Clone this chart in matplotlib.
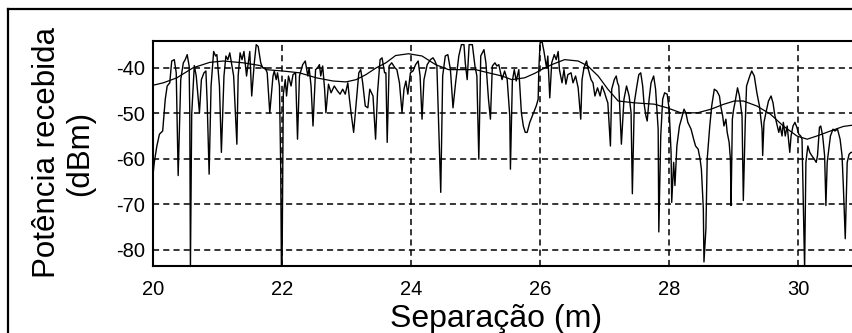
import matplotlib
matplotlib.use("Agg")
import matplotlib.pyplot as plt
from matplotlib.lines import Line2D

# --------------------------
# Data
# --------------------------
# received power (fast fading) - separation in m, power in dBm
sep_m = [
    19.98, 20.02, 20.06, 20.10, 20.15, 20.19, 20.22, 20.26, 20.29, 20.33,
    20.36, 20.39, 20.43, 20.47, 20.50, 20.53, 20.56, 20.57, 20.58, 20.60,
    20.64, 20.67, 20.72, 20.75, 20.79, 20.82, 20.84, 20.87, 20.90, 20.94,
    20.97, 20.99, 21.03, 21.06, 21.10, 21.13, 21.16, 21.19, 21.25, 21.30,
    21.32, 21.35, 21.38, 21.41, 21.45, 21.50, 21.53, 21.57, 21.60, 21.63,
    21.67, 21.70, 21.74, 21.77, 21.81, 21.86, 21.88, 21.91, 21.93, 21.96,
    21.98, 21.99, 22.00, 22.02, 22.05, 22.07, 22.10, 22.14, 22.17, 22.21,
    22.24, 22.27, 22.32, 22.36, 22.40, 22.42, 22.45, 22.48, 22.52, 22.55,
    22.58, 22.60, 22.63, 22.66, 22.68, 22.72, 22.76, 22.81, 22.86, 22.90,
    22.94, 22.98, 23.02, 23.04, 23.07, 23.11, 23.15, 23.19, 23.22, 23.25,
    23.29, 23.33, 23.36, 23.41, 23.45, 23.48, 23.52, 23.55, 23.59, 23.61,
    23.63, 23.66, 23.70, 23.75, 23.78, 23.82, 23.86, 23.89, 23.92, 23.95,
    23.99, 24.03, 24.07, 24.11, 24.14, 24.17, 24.20, 24.25, 24.30, 24.34,
    24.37, 24.40, 24.44, 24.46, 24.49, 24.53, 24.57, 24.61, 24.65, 24.69,
    24.74, 24.78, 24.82, 24.84, 24.87, 24.90, 24.95, 24.99, 25.02, 25.05,
    25.08, 25.13, 25.16, 25.20, 25.23, 25.26, 25.30, 25.33, 25.36, 25.41,
    25.45, 25.49, 25.53, 25.54, 25.57, 25.60, 25.63, 25.67, 25.71, 25.74,
    25.77, 25.80, 25.84, 25.89, 25.94, 25.97, 25.98, 26.00, 26.03, 26.06,
    26.10, 26.12, 26.15, 26.18, 26.22, 26.25, 26.28, 26.30, 26.34, 26.37,
    26.40, 26.43, 26.48, 26.51, 26.55, 26.59, 26.63, 26.65, 26.68, 26.72,
    26.74, 26.79, 26.82, 26.85, 26.89, 26.93, 26.96, 27.00, 27.03, 27.05,
    27.09, 27.11, 27.15, 27.18, 27.20, 27.22, 27.26, 27.30, 27.34, 27.38,
    27.41, 27.43, 27.46, 27.50, 27.53, 27.56, 27.59, 27.61, 27.64, 27.66,
    27.69, 27.72, 27.76, 27.79, 27.83, 27.84, 27.87, 27.90, 27.93, 27.97,
    28.00, 28.03, 28.04, 28.07, 28.09, 28.12, 28.16, 28.19, 28.23, 28.26,
    28.29, 28.34, 28.38, 28.41, 28.45, 28.48, 28.50, 28.53, 28.54, 28.57,
    28.59, 28.63, 28.66, 28.70, 28.74, 28.78, 28.80, 28.83, 28.85, 28.88,
    28.90, 28.93, 28.95, 28.96, 28.98, 29.00, 29.02, 29.06, 29.09, 29.13,
    29.15, 29.18, 29.20, 29.25, 29.28, 29.32, 29.36, 29.40, 29.44, 29.45,
    29.47, 29.50, 29.54, 29.58, 29.61, 29.64, 29.67, 29.70, 29.72, 29.75,
    29.77, 29.80, 29.83, 29.87, 29.89, 29.92, 29.95, 29.98, 30.01, 30.04,
    30.06, 30.08, 30.10, 30.12, 30.15, 30.18, 30.21, 30.25, 30.28, 30.30,
    30.33, 30.35, 30.38, 30.41, 30.43, 30.45, 30.50, 30.54, 30.57, 30.61,
    30.65, 30.68, 30.70, 30.73, 30.76, 30.79, 30.82, 30.85,
]
power_dbm = [
    -66.3, -60.8, -57.2, -54.6, -53.9, -46.9, -44.0, -43.3, -38.5, -38.2,
    -41.1, -63.7, -42.6, -38.9, -38.2, -37.1, -39.6, -49.9, -84.2, -50.2,
    -39.5, -41.8, -49.9, -42.6, -41.1, -40.7, -47.7, -63.4, -44.0, -36.4,
    -37.4, -37.1, -44.0, -58.6, -41.8, -37.4, -38.2, -36.7, -41.8, -56.8,
    -41.8, -36.7, -38.2, -36.4, -41.8, -36.4, -46.2, -38.9, -34.9, -35.3,
    -38.9, -40.0, -40.0, -41.1, -49.9, -41.8, -40.7, -42.6, -41.1, -44.0,
    -62.3, -84.2, -84.2, -45.8, -42.6, -46.2, -41.8, -44.0, -41.5, -41.1,
    -55.7, -41.8, -39.3, -38.5, -41.8, -40.0, -44.0, -52.8, -40.4, -40.0,
    -39.3, -41.8, -39.6, -44.7, -49.9, -43.6, -45.5, -44.0, -45.1, -45.8,
    -44.7, -45.8, -43.3, -46.2, -49.9, -54.2, -47.7, -41.1, -40.4, -43.3,
    -48.4, -48.8, -44.7, -46.2, -55.7, -45.5, -38.2, -37.8, -41.1, -41.1,
    -56.4, -39.6, -38.9, -40.0, -40.4, -43.3, -49.9, -44.7, -42.9, -45.8,
    -41.1, -40.7, -39.3, -38.5, -41.8, -51.3, -42.6, -39.3, -38.2, -37.8,
    -38.5, -39.6, -57.9, -67.4, -41.8, -37.4, -37.1, -40.4, -48.8, -43.3,
    -37.4, -34.9, -34.9, -38.9, -42.6, -34.9, -34.9, -39.6, -41.8, -60.1,
    -37.4, -36.0, -38.9, -46.9, -51.3, -39.6, -38.9, -39.6, -39.3, -42.6,
    -40.7, -42.6, -50.6, -62.3, -42.9, -40.4, -42.9, -40.4, -49.9, -52.8,
    -54.2, -54.2, -52.0, -50.2, -48.4, -46.9, -40.4, -34.5, -34.2, -36.4,
    -40.0, -37.4, -46.6, -38.9, -37.1, -38.2, -36.4, -40.4, -43.3, -40.4,
    -43.6, -41.5, -41.1, -43.3, -41.8, -44.4, -51.3, -42.6, -40.0, -38.5,
    -40.0, -42.6, -43.3, -46.2, -44.4, -46.2, -44.0, -45.5, -46.9, -47.7,
    -57.2, -44.7, -42.6, -41.8, -43.3, -44.0, -56.8, -46.9, -44.0, -46.2,
    -49.9, -67.7, -47.7, -44.0, -41.5, -41.1, -44.0, -47.7, -50.6, -51.7,
    -46.9, -43.3, -41.8, -44.7, -53.5, -76.1, -55.0, -46.9, -45.5, -45.8,
    -49.1, -58.6, -69.6, -60.8, -65.9, -57.2, -52.8, -51.3, -49.1, -49.9,
    -52.0, -53.5, -55.7, -57.2, -57.9, -60.1, -62.3, -71.0, -82.7, -75.4,
    -60.1, -52.8, -48.4, -44.7, -45.1, -46.2, -48.4, -50.6, -52.8, -51.3,
    -54.2, -56.4, -60.1, -70.3, -51.3, -49.1, -47.7, -44.4, -46.2, -50.6,
    -69.2, -52.0, -44.0, -41.8, -40.7, -41.8, -45.5, -48.4, -53.5, -59.3,
    -52.0, -49.9, -47.3, -46.2, -47.7, -50.6, -52.4, -54.2, -52.8, -55.0,
    -52.0, -55.0, -52.8, -58.6, -55.0, -52.8, -52.0, -53.1, -54.6, -55.0,
    -55.7, -69.6, -84.2, -60.8, -57.2, -58.6, -59.3, -60.1, -60.8, -59.3,
    -53.1, -52.8, -55.0, -59.3, -70.3, -60.8, -55.0, -53.5, -53.9, -53.5,
    -55.7, -59.3, -65.9, -77.6, -60.8, -59.0, -58.6, -58.6,
]

# local mean (slow fading)
mean_sep_m = [
    19.95, 20.16, 20.37, 20.62, 20.88, 21.09, 21.40, 21.66, 21.75, 22.01,
    22.27, 22.53, 22.79, 22.99, 23.15, 23.30, 23.46, 23.61, 23.76, 23.96,
    24.17, 24.38, 24.58, 24.79, 25.00, 25.20, 25.41, 25.56, 25.76, 25.92,
    26.02, 26.18, 26.38, 26.59, 26.74, 26.90, 27.05, 27.21, 27.46, 27.77,
    27.97, 28.18, 28.44, 28.65, 28.85, 29.01, 29.15, 29.36, 29.57, 29.77,
    29.98, 30.14, 30.29, 30.50, 30.70, 30.85,
]
mean_dbm = [
    -44.0, -43.3, -42.2, -40.0, -38.8, -38.5, -38.9, -39.5, -40.4, -40.7,
    -41.1, -42.2, -42.9, -43.1, -42.6, -41.5, -40.0, -38.9, -37.3, -36.9,
    -37.4, -39.3, -40.4, -40.4, -40.4, -41.1, -41.8, -42.6, -42.2, -41.2,
    -40.4, -39.3, -38.2, -38.5, -39.6, -41.8, -44.7, -47.3, -47.7, -48.0,
    -48.8, -49.9, -49.9, -49.1, -48.0, -47.3, -47.3, -48.4, -50.2, -52.8,
    -55.0, -55.7, -55.0, -53.9, -52.9, -52.6,
]

x_ticks = [20, 22, 24, 26, 28, 30]
y_ticks = [-40, -50, -60, -70, -80]

# --------------------------
# Figure
# --------------------------
W, H = 853, 333
fig = plt.figure(figsize=(W / 100, H / 100), dpi=100)
ax = fig.add_axes([153 / W, 1 - 266 / H, 1 - 153 / W, (266 - 41) / H])

ax.plot(sep_m, power_dbm, color="black", lw=1.0)
ax.plot(mean_sep_m, mean_dbm, color="black", lw=0.9)

ax.set_xlim(20, 30.85)
ax.set_ylim(-83.6, -34.1)
ax.set_xticks(x_ticks)
ax.set_yticks(y_ticks)
ax.set_xticklabels([str(t) for t in x_ticks])
ax.set_yticklabels([str(t) for t in y_ticks])
ax.tick_params(length=0, colors="black")
ax.tick_params(axis="x", pad=10)
ax.tick_params(axis="y", pad=6)
for lab in ax.get_xticklabels() + ax.get_yticklabels():
    lab.set_family(["Liberation Sans", "DejaVu Sans"])
    lab.set_fontsize(14.5)

ax.grid(True, color="black", linestyle=(0, (4, 2.7)), linewidth=1.1)
ax.set_axisbelow(True)
for side in ["left", "top", "bottom"]:
    ax.spines[side].set_linewidth(1.5)
    ax.spines[side].set_color("black")
ax.spines["right"].set_visible(False)

label_font = ["Liberation Sans", "DejaVu Sans"]
fig.text(63.5 / W, 1 - 153 / H, "Potência recebida\n(dBm)", rotation=90,
         ha="center", va="center", multialignment="center",
         fontsize=22.5, family=label_font, linespacing=1.1)
fig.text(496 / W, 1 - 327 / H, "Separação (m)", ha="center", va="baseline",
         fontsize=23, family=label_font)

# outer frame (cropped at right and bottom)
fig.add_artist(Line2D([8 / W, 1.0], [1 - 9 / H, 1 - 9 / H], transform=fig.transFigure,
                      color="black", lw=1.6))
fig.add_artist(Line2D([8 / W, 8 / W], [0.0, 1 - 9 / H], transform=fig.transFigure,
                      color="black", lw=1.6))

fig.savefig("out.png", dpi=100)
